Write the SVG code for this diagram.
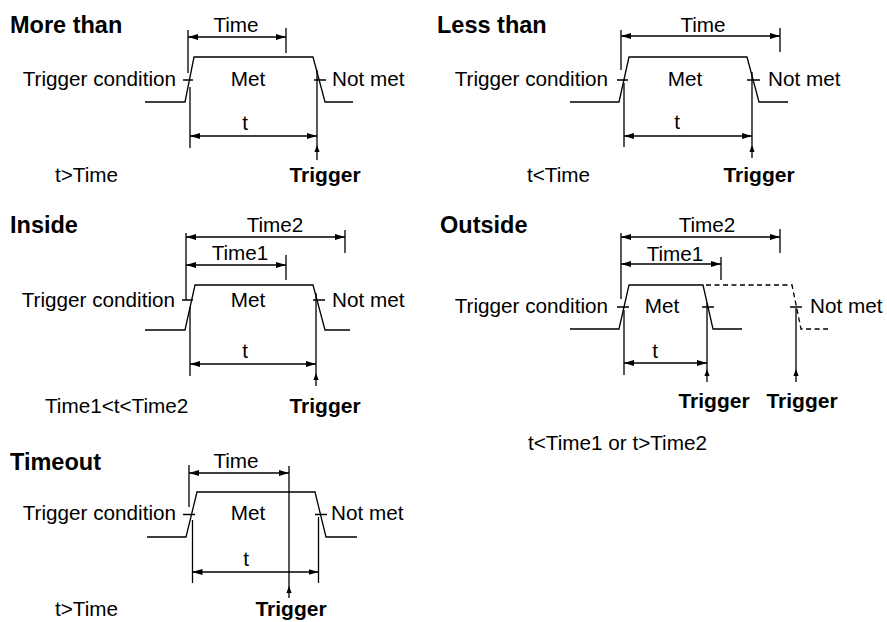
<svg xmlns="http://www.w3.org/2000/svg" xmlns:xlink="http://www.w3.org/1999/xlink" width="887" height="622" viewBox="0 0 887 622">
<style>
.ln{stroke:#000;stroke-width:1.3;fill:none}
.ds{stroke:#000;stroke-width:1.3;fill:none;stroke-dasharray:5,3.5}
.dim{stroke:#000;stroke-width:1.3;fill:none;marker-start:url(#ah);marker-end:url(#ah)}
text{font-family:"Liberation Sans",Arial,Helvetica,sans-serif;font-size:20.7px;fill:#000}
.h{font-weight:bold;font-size:23.5px}
.b{font-weight:bold;font-size:21px}
.m{text-anchor:middle}
.e{text-anchor:end}
</style>
<defs>
<marker id="ah" markerUnits="userSpaceOnUse" markerWidth="10" markerHeight="6" refX="10" refY="3" orient="auto-start-reverse"><path d="M0,0 L10,3 L0,6 z" fill="#000"/></marker>
<path id="trg" d="M0,0 L-2.6,7 L2.6,7 z" fill="#000"/>
</defs>
<rect width="887" height="622" fill="#fff"/>

<g id="more-than">
<text class="h" x="10" y="33">More than</text>
<text class="m" x="236" y="32">Time</text>
<text class="e" x="176" y="86">Trigger condition</text>
<text class="m" x="248" y="86">Met</text>
<text x="332" y="86">Not met</text>
<text class="m" x="245" y="130">t</text>
<text x="55" y="182">t&gt;Time</text>
<text class="b m" x="325" y="182">Trigger</text>
<path class="ln" d="M145,102 L185,102 L194,57 L313,57 L325,102 L353,102"/>
<path class="ln" d="M183,80 H193 M314,80 H326"/>
</g>

<g id="less-than">
<text class="h" x="437" y="33">Less than</text>
<text class="m" x="703" y="32">Time</text>
<text class="e" x="608" y="86">Trigger condition</text>
<text class="m" x="685" y="86">Met</text>
<text x="768" y="86">Not met</text>
<text class="m" x="677" y="129">t</text>
<text x="527" y="182">t&lt;Time</text>
<text class="b m" x="759" y="182">Trigger</text>
<path class="ln" d="M570,102 L619,102 L629,57 L747,57 L759,102 L788,102"/>
<path class="ln" d="M617,80 H628 M747,80 H760"/>
</g>

<g id="inside">
<text class="h" x="10" y="233">Inside</text>
<text class="m" x="275" y="232">Time2</text>
<text class="m" x="240" y="260">Time1</text>
<text class="e" x="175" y="307">Trigger condition</text>
<text class="m" x="248" y="307">Met</text>
<text x="332" y="307">Not met</text>
<text class="m" x="245" y="358">t</text>
<text x="45" y="413">Time1&lt;t&lt;Time2</text>
<text class="b m" x="325" y="413">Trigger</text>
<path class="ln" d="M145,330 L185,330 L195,285 L313,285 L325,330 L350,330"/>
<path class="ln" d="M182,300 H193 M313,300 H325"/>
</g>

<g id="outside">
<text class="h" x="440" y="233">Outside</text>
<text class="m" x="707" y="232">Time2</text>
<text class="m" x="675" y="261">Time1</text>
<text class="e" x="608" y="313">Trigger condition</text>
<text class="m" x="662" y="313">Met</text>
<text x="810" y="313">Not met</text>
<text class="m" x="655" y="358">t</text>
<text class="b m" x="714" y="408">Trigger</text>
<text class="b m" x="802" y="408">Trigger</text>
<text x="528" y="450">t&lt;Time1 or t&gt;Time2</text>
<path class="ln" d="M570,329 L619,329 L629,285 L703,285 L713,329 L742,329"/>
<path class="ds" d="M706,285 L792,285 L801,329 L828,329"/>
<path class="ln" d="M617,307 H629 M702,307 H714 M790,307 H802"/>
</g>

<g id="timeout">
<text class="h" x="10" y="470">Timeout</text>
<text class="m" x="236" y="468">Time</text>
<text class="e" x="176" y="520">Trigger condition</text>
<text class="m" x="248" y="520">Met</text>
<text x="331" y="520">Not met</text>
<text class="m" x="246" y="566">t</text>
<text x="55" y="616">t&gt;Time</text>
<text class="b m" x="291" y="616">Trigger</text>
<path class="ln" d="M147,537 L186,537 L197,492 L315,492 L326,537 L357,537"/>
<path class="ln" d="M183,514.5 H195 M315,514.5 H327"/>
</g>

<g id="connectors">
<path class="ln" d="M188,30 V73 M286,28 V53 M190,87 V148 M317,70 V160"/>
<line class="dim" x1="188" y1="37" x2="286" y2="37"/>
<line class="dim" x1="190" y1="136" x2="317" y2="136"/>
<use xlink:href="#trg" x="317" y="145"/>
<path class="ln" d="M621,30 V70 M780,28 V52 M624,83 V147 M752,72 V158"/>
<line class="dim" x1="621" y1="36" x2="780" y2="36"/>
<line class="dim" x1="624" y1="136" x2="752" y2="136"/>
<use xlink:href="#trg" x="752" y="145"/>
<path class="ln" d="M186,233 V300 M345,230 V253 M286,255 V280 M190,307 V376 M316,293 V386"/>
<line class="dim" x1="186" y1="237" x2="345" y2="237"/>
<line class="dim" x1="186" y1="265" x2="286" y2="265"/>
<line class="dim" x1="190" y1="364" x2="316" y2="364"/>
<use xlink:href="#trg" x="316" y="373"/>
<path class="ln" d="M621,233 V299 M780,229 V253 M721,257 V280 M624,310 V375 M707,303 V382 M796,308 V382"/>
<line class="dim" x1="621" y1="237" x2="780" y2="237"/>
<line class="dim" x1="621" y1="264" x2="721" y2="264"/>
<line class="dim" x1="624" y1="363" x2="707" y2="363"/>
<use xlink:href="#trg" x="707" y="369"/>
<use xlink:href="#trg" x="796" y="369"/>
<path class="ln" d="M189,465 V507 M289,466 V598 M192.5,520 V583 M318.5,517 V583"/>
<line class="dim" x1="189" y1="473" x2="289" y2="473"/>
<line class="dim" x1="192.5" y1="572" x2="318.5" y2="572"/>
<use xlink:href="#trg" x="289" y="586"/>
</g>
</svg>
